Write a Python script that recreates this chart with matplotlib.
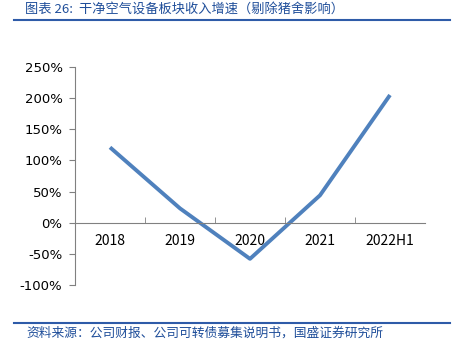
import matplotlib
matplotlib.use("Agg")
import matplotlib.pyplot as plt
from matplotlib.lines import Line2D

plt.rcParams['font.family'] = ['Noto Sans CJK SC', 'DejaVu Sans']

categories = ["2018", "2019", "2020", "2021", "2022H1"]
growth = [121, 23, -58, 44, 205]
yticks = [-100, -50, 0, 50, 100, 150, 200, 250]

title = "图表 26:  干净空气设备板块收入增速（剔除猪舍影响）"
source = "资料来源：公司财报、公司可转债募集说明书，国盛证券研究所"

W, H = 454, 351
fig = plt.figure(figsize=(W / 100, H / 100), dpi=100)
ax = fig.add_axes([75 / W, 1 - 285 / H, 350 / W, 218 / H])

x = list(range(len(categories)))
ax.plot(x, growth, color="#4F81BD", linewidth=2.8, solid_capstyle="butt")

ax.set_xlim(-0.5, len(categories) - 0.5)
ax.set_ylim(-100, 250)
ax.set_yticks(yticks)
ax.set_yticklabels([f"{v}%" for v in yticks], fontsize=9.5, family="DejaVu Sans")
ax.set_xticks(x)
ax.set_xticklabels(categories, fontsize=9.5, family="DejaVu Sans")
ax.set_xticks([i + 0.5 for i in range(len(categories) - 1)], minor=True)
ax.tick_params(axis="x", which="major", length=0, pad=8)
ax.tick_params(axis="x", which="minor", direction="in", length=4, color="#808080")
ax.tick_params(axis="y", direction="out", length=4, color="#808080", pad=5)

for s in ["top", "right"]:
    ax.spines[s].set_visible(False)
ax.spines["bottom"].set_position(("data", 0))
ax.spines["bottom"].set_color("#808080")
ax.spines["left"].set_color("#808080")

blue = "#1F4E9A"
fig.text(25 / W, 1 - 9 / H, title, fontsize=9.5, color=blue, va="center", ha="left")
fig.add_artist(Line2D([14 / W, 450 / W], [1 - 20 / H] * 2, color="#2E5BA8", linewidth=1.5))
fig.add_artist(Line2D([14 / W, 450 / W], [1 - 323 / H] * 2, color="#2E5BA8", linewidth=1.5))
fig.text(26 / W, 1 - 333 / H, source, fontsize=9.2, color=blue, va="center", ha="left")

fig.savefig("out.png", dpi=100)
